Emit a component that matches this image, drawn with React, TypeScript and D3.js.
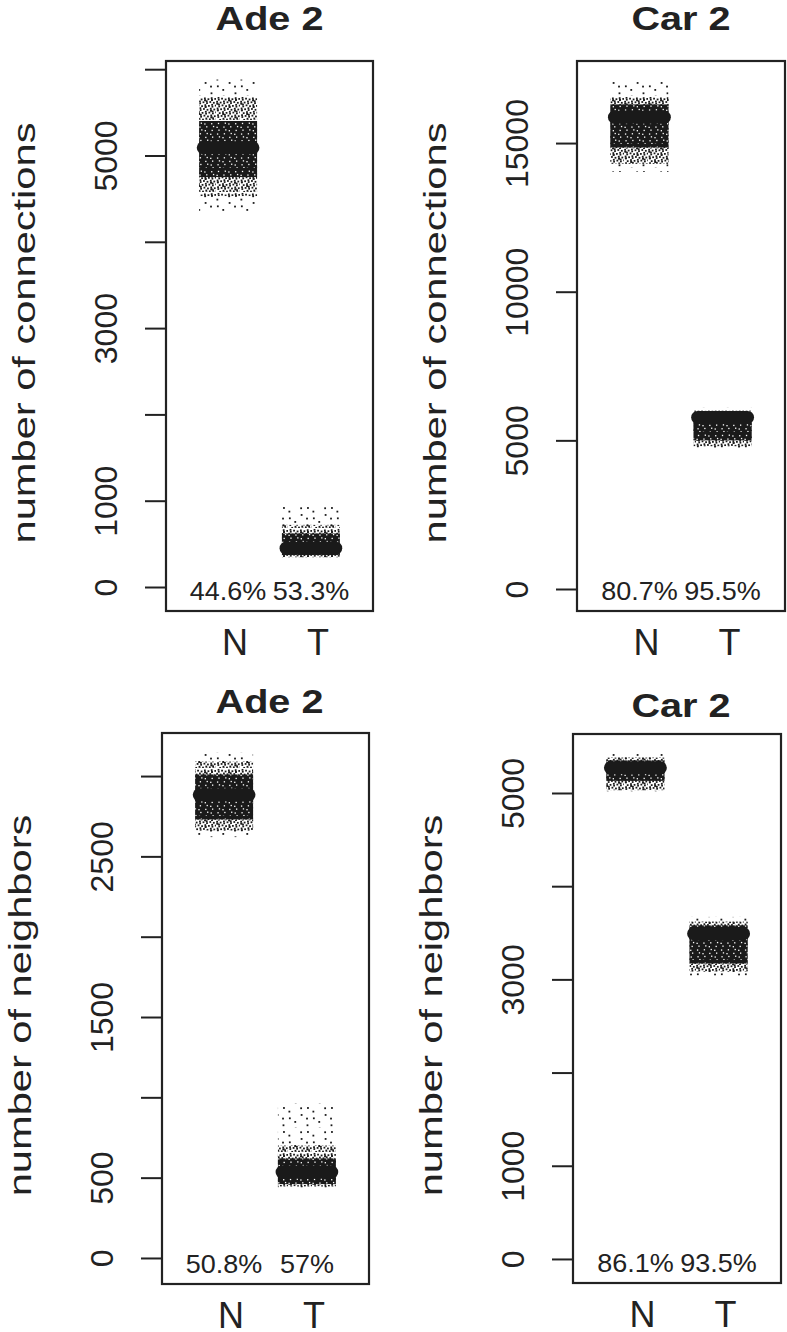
import React, { useEffect, useRef } from "react";
import * as d3 from "d3";

const categories = ["N", "T"];
const titles = ["Ade 2", "Car 2", "Ade 2", "Car 2"];
const yLabels = ["number of connections", "number of connections", "number of neighbors", "number of neighbors"];

// y ticks, and the ones R printed a label for
const ticksAdeConn = [0, 1000, 2000, 3000, 4000, 5000, 6000];
const labelsAdeConn = [0, 1000, 3000, 5000];
const ticksCarConn = [0, 5000, 10000, 15000];
const labelsCarConn = [0, 5000, 10000, 15000];
const ticksAdeNeigh = [0, 500, 1000, 1500, 2000, 2500, 3000];
const labelsAdeNeigh = [0, 500, 1500, 2500];
const ticksCarNeigh = [0, 1000, 2000, 3000, 4000, 5000];
const labelsCarNeigh = [0, 1000, 3000, 5000];

// y limits of each plot region
const limAdeConn = [-278, 6095];
const limCarConn = [-740, 17760];
const limAdeNeigh = [-162, 3268];
const limCarNeigh = [-258, 5633];

// point clouds:
// [min, lower spread, lower core, centre, upper core, upper spread, max]
const adeConnN = [4350, 4530, 4750, 5090, 5400, 5680, 5880];
const adeConnT = [340, 345, 370, 450, 620, 720, 950];
const carConnN = [14030, 14300, 14850, 15870, 16300, 16550, 17080];
const carConnT = [4730, 4800, 5000, 5770, 5900, 6000, 6100];
const adeNeighN = [2620, 2660, 2730, 2883, 3010, 3090, 3145];
const adeNeighT = [440, 445, 460, 535, 620, 700, 965];
const carNeighN = [4990, 5030, 5130, 5270, 5350, 5380, 5420];
const carNeighT = [3040, 3080, 3170, 3490, 3580, 3620, 3670];

const pctAdeConn = ["44.6%", "53.3%"];
const pctCarConn = ["80.7%", "95.5%"];
const pctAdeNeigh = ["50.8%", "57%"];
const pctCarNeigh = ["86.1%", "93.5%"];

const ink = "#222";
const font = "'Liberation Sans', Arial, Helvetica, sans-serif";

const panels = [
  { box: [166, 373, 61, 611], titleY: 30, ticks: ticksAdeConn, labels: labelsAdeConn, lim: limAdeConn, groups: [adeConnN, adeConnT], pct: pctAdeConn },
  { box: [577, 785, 61, 611], titleY: 30, ticks: ticksCarConn, labels: labelsCarConn, lim: limCarConn, groups: [carConnN, carConnT], pct: pctCarConn },
  { box: [162, 369, 733, 1284], titleY: 713, ticks: ticksAdeNeigh, labels: labelsAdeNeigh, lim: limAdeNeigh, groups: [adeNeighN, adeNeighT], pct: pctAdeNeigh },
  { box: [573, 781, 734, 1283], titleY: 717, ticks: ticksCarNeigh, labels: labelsCarNeigh, lim: limCarNeigh, groups: [carNeighN, carNeighT], pct: pctCarNeigh },
];

// speckle texture for the jittered points (quasi-random spread inside a tile)
function addPattern(defs, id, n, size, bg, dot) {
  const W = 24;
  const p = defs.append("pattern").attr("id", id)
    .attr("patternUnits", "userSpaceOnUse").attr("width", W).attr("height", W);
  if (bg) p.append("rect").attr("width", W).attr("height", W).attr("fill", bg);
  for (let i = 1; i <= n; i++) {
    const x = ((i * 0.7548776662) % 1) * W;
    const y = ((i * 0.5698402910) % 1) * W;
    p.append("rect").attr("x", x).attr("y", y).attr("width", size).attr("height", size).attr("fill", dot);
  }
}

export default function App() {
  const ref = useRef(null);

  useEffect(() => {
    const svg = d3.select(ref.current);
    svg.selectAll("*").remove();

    const defs = svg.append("defs");
    addPattern(defs, "sparse", 9, 1.8, null, "#1a1a1a");
    addPattern(defs, "semi", 70, 1.8, null, "#1a1a1a");
    addPattern(defs, "dense", 28, 1.3, "#1a1a1a", "#fff");

    panels.forEach((pn, k) => {
      const [x0, x1, y0, y1] = pn.box;
      const x = d3.scaleLinear().domain([0.25, 2.75]).range([x0, x1]);
      const y = d3.scaleLinear().domain(pn.lim).range([y1, y0]);
      const g = svg.append("g");
      const cx = (x0 + x1) / 2;

      // clouds
      pn.groups.forEach((v, i) => {
        const gx = i + 1;
        const tiers = [["sparse", v[0], v[6]], ["semi", v[1], v[5]], ["dense", v[2], v[4]]];
        tiers.forEach(([pat, lo, hi]) => {
          g.append("rect")
            .attr("x", x(gx - 0.35)).attr("width", x(gx + 0.35) - x(gx - 0.35))
            .attr("y", y(hi)).attr("height", y(lo) - y(hi))
            .attr("fill", `url(#${pat})`);
        });
        g.append("line")
          .attr("x1", x(gx - 0.3)).attr("x2", x(gx + 0.3))
          .attr("y1", y(v[3])).attr("y2", y(v[3]))
          .attr("stroke", "#1a1a1a").attr("stroke-width", 13).attr("stroke-linecap", "round");
      });

      // percentages
      g.selectAll(".pct").data(pn.pct).join("text")
        .attr("class", "pct")
        .attr("transform", (d, i) => `translate(${x(i + 1)},${y1 - 11}) scale(1.08,1)`)
        .attr("text-anchor", "middle").attr("font-size", 25).attr("font-family", font).attr("fill", ink)
        .text(d => d);

      // box
      g.append("rect").attr("x", x0).attr("y", y0).attr("width", x1 - x0).attr("height", y1 - y0)
        .attr("fill", "none").attr("stroke", ink).attr("stroke-width", 2.2);

      // y axis
      const ax = g.append("g").attr("transform", `translate(${x0},0)`)
        .call(d3.axisLeft(y).tickValues(pn.ticks).tickSize(21)
          .tickFormat(d => (pn.labels.includes(d) ? String(d) : "")));
      ax.select(".domain").remove();
      ax.selectAll("line").attr("stroke", ink).attr("stroke-width", 2);
      ax.selectAll("text")
        .attr("x", null).attr("dy", null)
        .attr("transform", "translate(-49.5,0) rotate(-90)")
        .attr("text-anchor", "middle").attr("font-size", 32).attr("font-family", font).attr("fill", ink);

      // x category labels
      g.selectAll(".cat").data(categories).join("text")
        .attr("class", "cat")
        .attr("x", (d, i) => x(i + 1) + 7).attr("y", y1 + 44)
        .attr("text-anchor", "middle").attr("font-size", 36).attr("font-family", font).attr("fill", ink)
        .text(d => d);

      // y title
      g.append("text")
        .attr("transform", `translate(${x0 - 131},${(y0 + y1) / 2 - 3}) rotate(-90) scale(1.3,1)`)
        .attr("text-anchor", "middle").attr("font-size", 32).attr("font-family", font).attr("fill", ink)
        .text(yLabels[k]);

      // panel title
      g.append("text")
        .attr("transform", `translate(${cx + (k > 1 ? 4 : 0)},${pn.titleY}) scale(1.2,1)`)
        .attr("text-anchor", "middle").attr("font-size", 33).attr("font-weight", "bold")
        .attr("font-family", font).attr("fill", ink)
        .text(titles[k]);
    });
  }, []);

  return (
    <svg ref={ref} width={787} height={1332}
      style={{ position: "absolute", left: 0, top: 0, background: "#fff" }} />
  );
}
